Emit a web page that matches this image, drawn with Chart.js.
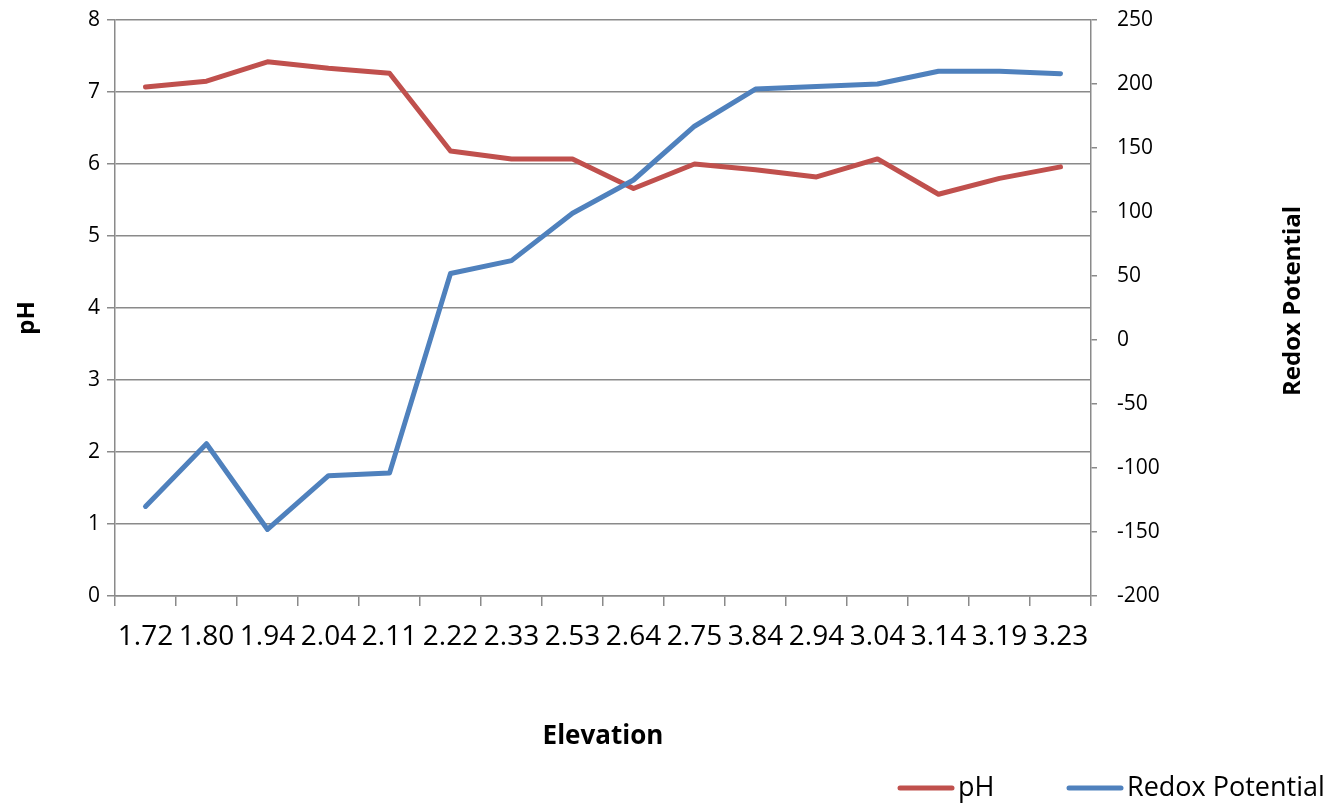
<!DOCTYPE html>
<html>
<head>
<meta charset="utf-8">
<title>pH and Redox Potential by Elevation</title>
<script src="https://cdn.jsdelivr.net/npm/chart.js@4/dist/chart.umd.min.js"></script>
<style>
  html, body { margin: 0; padding: 0; background: #ffffff; }
  #wrap { width: 1337px; height: 806px; }
</style>
</head>
<body>
<div id="wrap"><canvas id="chart" width="1337" height="806"></canvas></div>
<script>
// Sampling elevations (category order as recorded)
const elevations = ['1.72', '1.80', '1.94', '2.04', '2.11', '2.22', '2.33', '2.53',
                    '2.64', '2.75', '3.84', '2.94', '3.04', '3.14', '3.19', '3.23'];

// Soil pH at each elevation
const phValues = [7.07, 7.15, 7.42, 7.33, 7.26, 6.18, 6.07, 6.07,
                  5.66, 6.00, 5.92, 5.82, 6.07, 5.58, 5.80, 5.96];

// Redox potential at each elevation
const redoxValues = [-130, -81, -148, -106, -104, 52, 62, 99,
                     125, 167, 196, 198, 200, 210, 210, 208];

// Axis ranges
const phRange = { min: 0, max: 8, step: 1 };
const redoxRange = { min: -200, max: 250, step: 50 };

const PH_COLOR = '#C0504D';
const REDOX_COLOR = '#4F81BD';
const GRID_COLOR = '#8a8a8a';
const FONT = '"Open Sans", "DejaVu Sans", sans-serif';

// Vertical axis titles (both read bottom-to-top) and the line-style legend
const decorations = {
  id: 'decorations',
  afterDraw(chart) {
    const ctx = chart.ctx;
    ctx.save();
    ctx.fillStyle = '#000';
    ctx.textBaseline = 'middle';
    ctx.textAlign = 'center';
    ctx.font = 'bold 24px ' + FONT;

    ctx.save();
    ctx.translate(27, 318);
    ctx.rotate(-Math.PI / 2);
    ctx.fillText('pH', 0, 0);
    ctx.restore();

    ctx.save();
    ctx.translate(1293, 301);
    ctx.rotate(-Math.PI / 2);
    ctx.fillText('Redox Potential', 0, 0);
    ctx.restore();

    // legend
    const items = [
      { label: chart.data.datasets[0].label, color: chart.data.datasets[0].borderColor, x: 900 },
      { label: chart.data.datasets[1].label, color: chart.data.datasets[1].borderColor, x: 1069 }
    ];
    const ly = 788;
    ctx.lineCap = 'round';
    ctx.lineWidth = 5;
    ctx.textAlign = 'left';
    ctx.font = '27px ' + FONT;
    items.forEach(it => {
      ctx.strokeStyle = it.color;
      ctx.beginPath();
      ctx.moveTo(it.x, ly);
      ctx.lineTo(it.x + 52, ly);
      ctx.stroke();
      ctx.fillText(it.label, it.x + 58, ly);
    });
    ctx.restore();
  }
};

// Fixed box sizes for the axes so the plot area sits where it should
function fixVertical(width) {
  return function (scale) {
    scale.width = width;
    scale.paddingTop = 0;
    scale.paddingBottom = 0;
  };
}

new Chart(document.getElementById('chart'), {
  type: 'line',
  data: {
    labels: elevations,
    datasets: [
      {
        label: 'pH',
        data: phValues,
        yAxisID: 'yPH',
        borderColor: PH_COLOR,
        backgroundColor: PH_COLOR,
        borderWidth: 5,
        pointRadius: 0,
        tension: 0,
        borderJoinStyle: 'round',
        borderCapStyle: 'round',
        order: 1
      },
      {
        label: 'Redox Potential',
        data: redoxValues,
        yAxisID: 'yRedox',
        borderColor: REDOX_COLOR,
        backgroundColor: REDOX_COLOR,
        borderWidth: 5,
        pointRadius: 0,
        tension: 0,
        borderJoinStyle: 'round',
        borderCapStyle: 'round',
        order: 0
      }
    ]
  },
  options: {
    responsive: false,
    animation: false,
    layout: { padding: { top: 20, left: 0, right: 0, bottom: 0 } },
    plugins: {
      legend: { display: false },
      tooltip: { enabled: false }
    },
    scales: {
      x: {
        type: 'category',
        offset: true,
        afterFit(scale) { scale.height = 210; scale.paddingLeft = 0; scale.paddingRight = 0; },
        grid: {
          offset: true,
          drawOnChartArea: false,
          drawTicks: true,
          tickLength: 10,
          color: GRID_COLOR,
          lineWidth: 1.5
        },
        border: { display: true, color: GRID_COLOR, width: 1.5 },
        ticks: {
          color: '#000',
          font: { family: FONT, size: 28 },
          padding: 14,
          maxRotation: 0,
          autoSkip: false
        },
        title: {
          display: true,
          text: 'Elevation',
          color: '#000',
          font: { family: FONT, size: 26, weight: 'bold' },
          padding: { top: 0, bottom: 54 }
        }
      },
      yPH: {
        type: 'linear',
        position: 'left',
        min: phRange.min,
        max: phRange.max,
        afterFit: fixVertical(115),
        grid: {
          drawOnChartArea: true,
          drawTicks: true,
          tickLength: 8,
          color: GRID_COLOR,
          lineWidth: 1.5
        },
        border: { display: true, color: GRID_COLOR, width: 1.5 },
        ticks: {
          stepSize: phRange.step,
          color: '#000',
          font: { family: FONT, size: 21 },
          padding: 7
        }
      },
      yRedox: {
        type: 'linear',
        position: 'right',
        min: redoxRange.min,
        max: redoxRange.max,
        afterFit: fixVertical(246),
        grid: {
          drawOnChartArea: false,
          drawTicks: true,
          tickLength: 6,
          color: GRID_COLOR,
          lineWidth: 1.5
        },
        border: { display: true, color: GRID_COLOR, width: 1.5 },
        ticks: {
          stepSize: redoxRange.step,
          color: '#000',
          font: { family: FONT, size: 21 },
          padding: 20
        }
      }
    }
  },
  plugins: [decorations]
});
</script>
</body>
</html>
